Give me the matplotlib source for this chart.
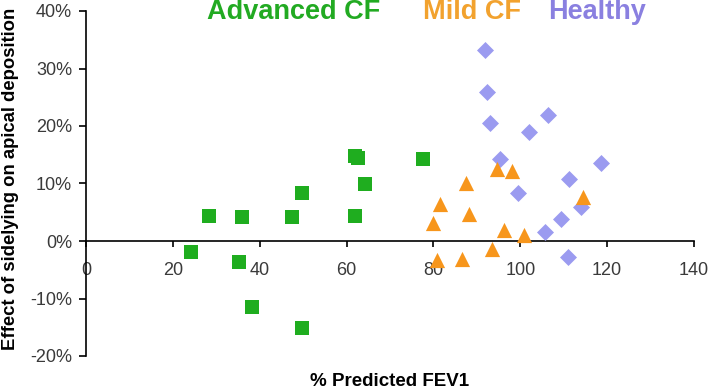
import numpy as np
import matplotlib
matplotlib.use("Agg")
import matplotlib.pyplot as plt
from matplotlib.ticker import PercentFormatter

plt.rcParams['font.family'] = ['Liberation Sans', 'DejaVu Sans']
plt.rcParams['axes.unicode_minus'] = False

# % predicted FEV1 vs effect of sidelying (fraction)
adv_x = [28.3, 35.9, 47.4, 49.7, 61.9, 24.2, 35.2, 38.3, 49.7, 61.9, 62.6, 64.2, 77.7]
adv_y = [0.044, 0.042, 0.042, 0.083, 0.043, -0.019, -0.037, -0.115, -0.152, 0.148, 0.145, 0.100, 0.142]

mild_x = [94.6, 98.0, 87.5, 81.4, 88.3, 80.0, 96.2, 100.9, 114.5, 93.5, 86.5, 80.9]
mild_y = [0.126, 0.122, 0.101, 0.064, 0.047, 0.032, 0.020, 0.010, 0.076, -0.014, -0.031, -0.033]

healthy_x = [91.9, 92.4, 93.0, 102.1, 106.4, 95.3, 118.5, 111.3, 99.4, 113.9, 109.3, 105.6, 111.1]
healthy_y = [0.332, 0.259, 0.205, 0.189, 0.219, 0.143, 0.135, 0.107, 0.083, 0.060, 0.039, 0.015, -0.027]

green = '#1fad1f'
orange = '#f7961c'
purple = '#9b9bf0'

fig = plt.figure(figsize=(7.09, 3.91), dpi=100)
ax = fig.add_axes([86/709, 1-356/391, 608/709, 345/391])

ax.scatter(healthy_x, healthy_y, marker='D', s=75, color=purple, linewidths=0, zorder=3)
ax.scatter(mild_x, mild_y, marker='^', s=120, color=orange, linewidths=0, zorder=3)
ax.scatter(adv_x, adv_y, marker='s', s=110, color=green, linewidths=0, zorder=3)

ax.set_xlim(0, 140)
ax.set_ylim(-0.2, 0.4)
ax.set_xticks(np.arange(0, 141, 20))
ax.set_yticks(np.arange(-0.2, 0.41, 0.1))
ax.yaxis.set_major_formatter(PercentFormatter(1.0, decimals=0))

ax.spines['top'].set_visible(False)
ax.spines['right'].set_visible(False)
ax.spines['left'].set_position(('data', 0))
ax.spines['bottom'].set_position(('data', 0))
for sp in ('left', 'bottom'):
    ax.spines[sp].set_linewidth(1.2)

ax.tick_params(axis='y', direction='out', length=5, width=1.2, pad=5,
               labelsize=13, labelcolor='#3a3a3a')
ax.tick_params(axis='x', direction='out', length=4, width=1.2, pad=11,
               labelsize=13, labelcolor='#3a3a3a')

fig.text(11/709, 1-179/391, 'Effect of sidelying on apical deposition', rotation=90,
         ha='center', va='center', fontsize=13.3, fontweight='bold')
fig.text(390/709, 1-381/391, '% Predicted FEV1', ha='center', va='center',
         fontsize=13.5, fontweight='bold')

fig.text(207/709, 1-12/391, 'Advanced CF', color='#22aa22', fontsize=19.5,
         fontweight='bold', ha='left', va='center')
fig.text(423/709, 1-12/391, 'Mild CF', color='#f2a22e', fontsize=19.5,
         fontweight='bold', ha='left', va='center')
fig.text(548/709, 1-12/391, 'Healthy', color='#8a80e0', fontsize=19.5,
         fontweight='bold', ha='left', va='center')

fig.savefig('out.png', dpi=100)
